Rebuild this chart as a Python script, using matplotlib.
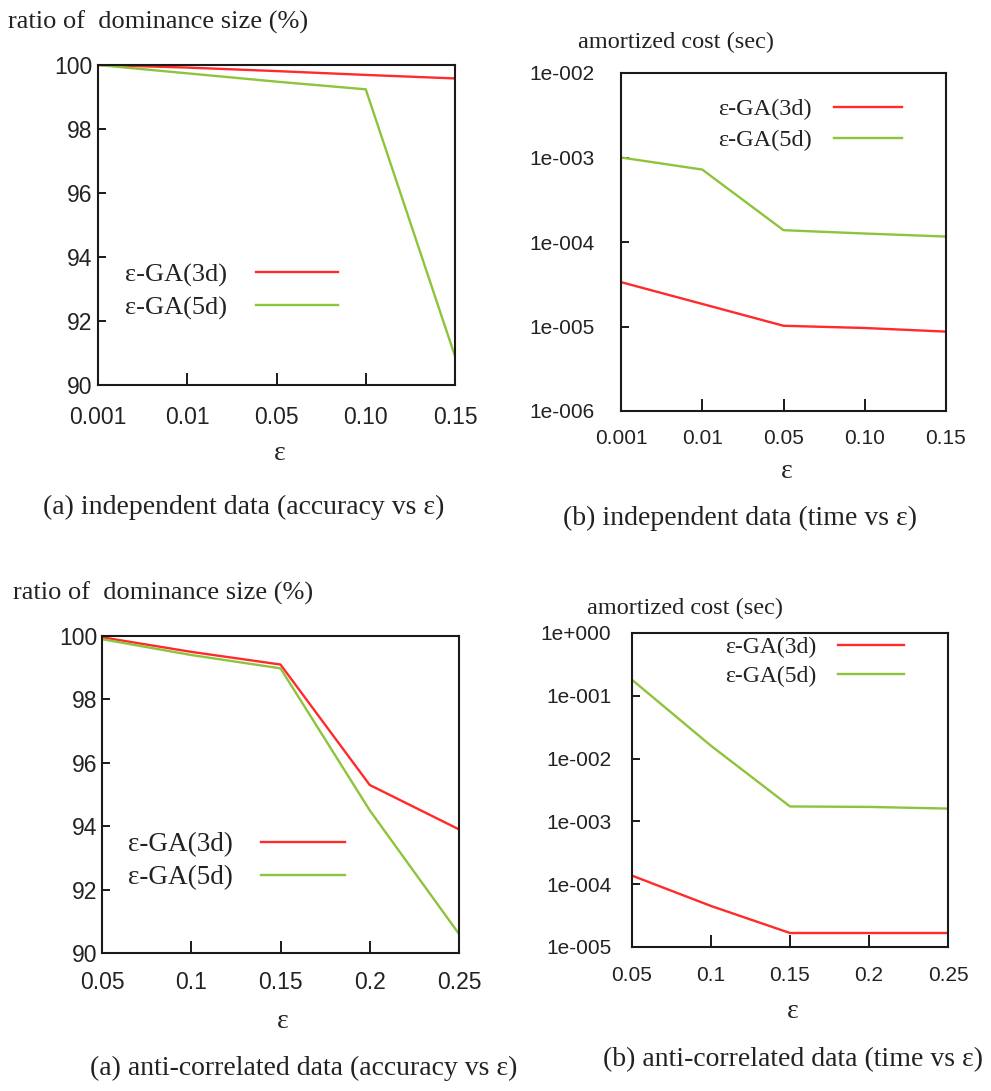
import matplotlib
matplotlib.use("Agg")
import matplotlib.pyplot as plt
from matplotlib.ticker import FixedLocator, FixedFormatter, NullLocator

# ---------------- data ----------------
eps_ind = ["0.001", "0.01", "0.05", "0.10", "0.15"]
eps_anti = ["0.05", "0.1", "0.15", "0.2", "0.25"]

acc_ind_3d = [100.0, 99.92, 99.81, 99.69, 99.58]
acc_ind_5d = [100.0, 99.74, 99.48, 99.24, 90.9]

time_ind_3d = [3.35e-5, 1.85e-5, 1.02e-5, 9.6e-6, 8.7e-6]
time_ind_5d = [1.0e-3, 7.2e-4, 1.38e-4, 1.26e-4, 1.16e-4]

acc_anti_3d = [99.96, 99.5, 99.1, 95.3, 93.9]
acc_anti_5d = [99.9, 99.4, 98.98, 94.5, 90.6]

time_anti_3d = [1.37e-4, 4.5e-5, 1.67e-5, 1.67e-5, 1.67e-5]
time_anti_5d = [0.18, 1.6e-2, 1.73e-3, 1.7e-3, 1.6e-3]

acc_ticks = [90, 92, 94, 96, 98, 100]
log_ticks_ind = [1e-6, 1e-5, 1e-4, 1e-3, 1e-2]
log_labels_ind = ["1e-006", "1e-005", "1e-004", "1e-003", "1e-002"]
log_ticks_anti = [1e-5, 1e-4, 1e-3, 1e-2, 1e-1, 1e0]
log_labels_anti = ["1e-005", "1e-004", "1e-003", "1e-002", "1e-001", "1e+000"]

series_names = ["\u03b5-GA(3d)", "\u03b5-GA(5d)"]
ylab_acc = "ratio of  dominance size (%)"
ylab_time = "amortized cost (sec)"
captions = ["(a) independent data (accuracy vs \u03b5)",
            "(b) independent data (time vs \u03b5)",
            "(a) anti-correlated data (accuracy vs \u03b5)",
            "(b) anti-correlated data (time vs \u03b5)"]

# ---------------- style ----------------
W, H = 991, 1091
RED = "#ff2a2a"
GREEN = "#8cc43c"
SERIF = ["Liberation Serif", "DejaVu Serif"]
SANS = ["Liberation Sans", "DejaVu Sans"]

fig = plt.figure(figsize=(W / 100, H / 100), dpi=100)
fig.patch.set_facecolor("white")


def fx(px):
    return px / W


def fy(py):
    return 1 - py / H


def make_ax(x0, y0, x1, y1):
    return fig.add_axes([fx(x0), fy(y1), fx(x1) - fx(x0), fy(y0) - fy(y1)])


def style(ax, tick_fs, xpad, ypad):
    for s in ax.spines.values():
        s.set_linewidth(1.5)
        s.set_color("#1a1a1a")
    ax.tick_params(axis="x", direction="in", length=9, width=1.4,
                   pad=xpad, labelsize=tick_fs, colors="#1a1a1a")
    ax.tick_params(axis="y", direction="in", length=5.5, width=1.4,
                   pad=ypad, labelsize=tick_fs, colors="#1a1a1a")
    for lab in ax.get_xticklabels() + ax.get_yticklabels():
        lab.set_family(SANS)
        lab.set_color("#222222")


def legend(ax, lines, fs, x_text, y_first, hl, htp, ls):
    leg = ax.legend(lines, series_names, loc="upper left",
                    bbox_to_anchor=(fx(x_text), fy(y_first)),
                    bbox_transform=fig.transFigure, frameon=False,
                    markerfirst=False, borderpad=0, borderaxespad=0,
                    handlelength=hl, handletextpad=htp, labelspacing=ls,
                    prop={"family": SERIF, "size": fs})
    for t in leg.get_texts():
        t.set_color("#222222")
    return leg


xs = list(range(5))

# ---- panel 1 ----
ax1 = make_ax(98, 65, 455, 385)
l1, = ax1.plot(xs, acc_ind_3d, color=RED, lw=1.7)
l2, = ax1.plot(xs, acc_ind_5d, color=GREEN, lw=1.7)
ax1.set_xlim(0, 4)
ax1.set_ylim(90, 100)
ax1.set_xticks(xs)
ax1.set_xticklabels(eps_ind)
ax1.set_yticks(acc_ticks)
style(ax1, 16.5, 15, 4)
legend(ax1, [l1, l2], 19, 125, 263, 3.1, 1.1, 0.35)

# ---- panel 2 ----
ax2 = make_ax(621, 73, 946, 411)
l1, = ax2.plot(xs, time_ind_3d, color=RED, lw=1.7)
l2, = ax2.plot(xs, time_ind_5d, color=GREEN, lw=1.7)
ax2.set_yscale("log")
ax2.set_xlim(0, 4)
ax2.set_ylim(1e-6, 1e-2)
ax2.set_xticks(xs)
ax2.set_xticklabels(eps_ind)
ax2.yaxis.set_major_locator(FixedLocator(log_ticks_ind))
ax2.yaxis.set_major_formatter(FixedFormatter(log_labels_ind))
ax2.yaxis.set_minor_locator(NullLocator())
style(ax2, 15, 13, 19)
legend(ax2, [l1, l2], 17.5, 718, 98, 2.8, 0.9, 0.37)

# ---- panel 3 ----
ax3 = make_ax(102, 636, 459, 953)
l1, = ax3.plot(xs, acc_anti_3d, color=RED, lw=1.7)
l2, = ax3.plot(xs, acc_anti_5d, color=GREEN, lw=1.7)
ax3.set_xlim(0, 4)
ax3.set_ylim(90, 100)
ax3.set_xticks(xs)
ax3.set_xticklabels(eps_anti)
ax3.set_yticks(acc_ticks)
style(ax3, 16.5, 13, 3.5)
legend(ax3, [l1, l2], 19.5, 128, 832, 3.1, 1.05, 0.31)

# ---- panel 4 ----
ax4 = make_ax(632, 633, 948, 947)
l1, = ax4.plot(xs, time_anti_3d, color=RED, lw=1.7)
l2, = ax4.plot(xs, time_anti_5d, color=GREEN, lw=1.7)
ax4.set_yscale("log")
ax4.set_xlim(0, 4)
ax4.set_ylim(1e-5, 1e0)
ax4.set_xticks(xs)
ax4.set_xticklabels(eps_anti)
ax4.yaxis.set_major_locator(FixedLocator(log_ticks_anti))
ax4.yaxis.set_major_formatter(FixedFormatter(log_labels_anti))
ax4.yaxis.set_minor_locator(NullLocator())
style(ax4, 15, 14, 15)
legend(ax4, [l1, l2], 17, 725, 637, 2.8, 0.9, 0.29)

# ---------------- texts ----------------
TXT = "#222222"
fig.text(fx(8), fy(22), ylab_acc, family=SERIF, fontsize=19, va="center", ha="left", color=TXT)
fig.text(fx(13), fy(593), ylab_acc, family=SERIF, fontsize=19, va="center", ha="left", color=TXT)
fig.text(fx(578), fy(42), ylab_time, family=SERIF, fontsize=17.5, va="center", ha="left", color=TXT)
fig.text(fx(587), fy(608), ylab_time, family=SERIF, fontsize=17.5, va="center", ha="left", color=TXT)

for (x, y) in [(280, 453), (787, 472), (283, 1022), (793, 1012)]:
    fig.text(fx(x), fy(y), "\u03b5", family=SERIF, fontsize=20, va="center", ha="center", color=TXT)

for txt, (x, y) in zip(captions, [(43, 507), (563, 518), (90, 1068), (603, 1060)]):
    fig.text(fx(x), fy(y), txt, family=SERIF, fontsize=20, va="center", ha="left", color=TXT)

fig.savefig("out.png", dpi=100, facecolor="white")
